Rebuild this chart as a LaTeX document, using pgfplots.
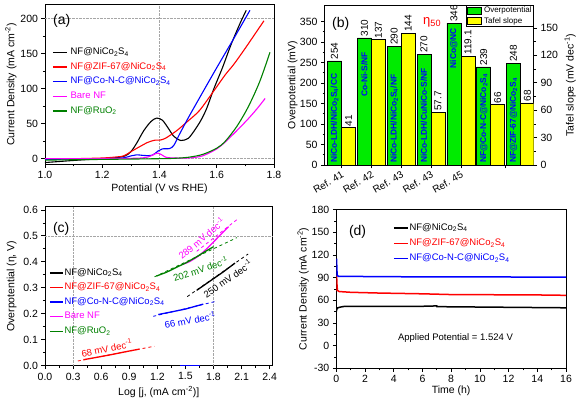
\documentclass[border=0pt]{standalone}
\usepackage{fontspec}
\setmainfont{Liberation Sans}
\usepackage{pgfplots}
\pgfplotsset{compat=1.18}
\definecolor{mygreen}{RGB}{0,128,0}
\definecolor{bargreen}{RGB}{0,235,0}
\definecolor{baryellow}{RGB}{255,255,0}
\definecolor{mymag}{RGB}{255,0,255}
\pgfplotsset{
  base/.style={scale only axis, anchor=south west, tick align=outside,
    xtick pos=bottom, ytick pos=left, major tick length=3.5pt, minor tick length=2pt,
    every tick/.style={black, line width=0.6pt}, axis line style={line width=0.8pt},
    /pgf/number format/assume math mode=true,
    tick label style={font=\fontsize{10.5}{12}\selectfont},
    label style={font=\fontsize{10.5}{12}\selectfont},
    minor tick num=1, clip=true,
    legend cell align=left},
  ylab/.style={ylabel style={at={([xshift=#1]rel axis cs:0,0.5)}, anchor=south}},
  xlab/.style={xlabel style={at={([yshift=#1]rel axis cs:0.5,0)}, anchor=north}},
  lineleg/.style={legend image code/.code={\draw[##1, line width=1.3pt] (0pt,0pt) -- (#1,0pt);}},
  sqleg/.style={legend image code/.code={\draw[##1] (0pt,-3.5pt) rectangle (14pt,3.5pt);}},
  gridx/.style={extra x ticks={#1}, extra x tick labels={}, extra x tick style={grid=major, major grid style={gray!70, densely dotted, line width=0.5pt}}},
  gridy/.style={extra y ticks={#1}, extra y tick labels={}, extra y tick style={grid=major, major grid style={gray!70, densely dotted, line width=0.5pt}}},
}
\begin{document}
\begin{tikzpicture}
\useasboundingbox (0pt,0pt) rectangle (576pt,403pt);

% ---------------- (a)
\begin{axis}[base, at={(45pt,238.7pt)}, width=229pt, height=159.6pt,
  xmin=1.0, xmax=1.8, ymin=-8, ymax=220,
  xtick={1.0,1.2,1.4,1.6,1.8}, ytick={0,50,100,150,200},
  xticklabel style={/pgf/number format/.cd, fixed, fixed zerofill, precision=1},
  gridx={1.4}, gridy={0,200},
  xlabel={Potential (V vs RHE)}, ylabel={Current Density (mA cm\textsuperscript{-2})},
  ylab=-25pt, xlab=-16.5pt,
  lineleg=14pt,
  legend style={draw=none, fill=none, at={(0.031,0.739)}, anchor=north west,
    font=\fontsize{9.5}{10}\selectfont, inner sep=0pt, row sep=3.2pt,
    nodes={inner sep=1pt, text height=7pt, text depth=2.5pt},
    /tikz/every odd column/.append style={column sep=2pt}},
  smooth, tension=0.5]
\addplot[black, line width=1.1pt] coordinates {(1.00,-5.5)(1.05,-4)(1.10,-2.5)(1.15,-1.2)(1.20,0)(1.25,1.5)(1.28,4)(1.30,10)(1.32,22)(1.345,40)(1.37,53)(1.39,58)(1.41,55)(1.43,44)(1.45,32)(1.475,26)(1.50,29)(1.52,39)(1.545,55)(1.565,72)(1.59,100)(1.62,130)(1.65,163)(1.68,192)(1.703,212)};
\addlegendentry{NF@NiCo\textsubscript{2}S\textsubscript{4}}
\addplot[red, line width=1.1pt] coordinates {(1.00,-0.5)(1.10,0)(1.20,1)(1.25,2.5)(1.275,4)(1.30,10)(1.33,17)(1.36,23.5)(1.385,26.5)(1.40,26.5)(1.42,29)(1.46,40)(1.50,54)(1.54,69)(1.59,97)(1.63,120)(1.66,135)(1.70,158)(1.73,176)(1.765,197)};
\addlegendentry{\textcolor{red}{NF@ZIF-67@NiCo\textsubscript{2}S\textsubscript{4}}}
\addplot[blue, line width=1.1pt] coordinates {(1.00,-1)(1.10,-0.5)(1.20,0)(1.27,1)(1.30,4)(1.32,5.5)(1.35,4.5)(1.375,5)(1.395,11)(1.41,14)(1.435,14.5)(1.45,19)(1.47,35)(1.50,58)(1.54,87)(1.60,130)(1.66,172)(1.716,212)};
\addlegendentry{\textcolor{blue}{NF@Co-N-C@NiCo\textsubscript{2}S\textsubscript{4}}}
\addplot[mymag, line width=1.1pt] coordinates {(1.00,0)(1.30,0.5)(1.36,2.5)(1.385,7)(1.395,8)(1.41,5)(1.43,1.5)(1.50,1)(1.55,4)(1.60,14)(1.63,24)(1.67,40)(1.71,57)(1.74,71)(1.769,86)};
\addlegendentry{\textcolor{mymag}{Bare NF}}
\addplot[mygreen, line width=1.1pt] coordinates {(1.00,-2)(1.20,-1)(1.40,0)(1.45,0.5)(1.50,2)(1.55,6)(1.60,15)(1.63,25)(1.67,46)(1.71,74)(1.75,110)(1.786,152)};
\addlegendentry{\textcolor{mygreen}{NF@RuO\textsubscript{2}}}
\node[anchor=west, font=\fontsize{14}{15}\selectfont] at (rel axis cs:0.02,0.9) {(a)};
\end{axis}

% ---------------- (b) left
\begin{axis}[base, at={(324.5pt,238pt)}, width=209pt, height=160pt,
  xmin=0.428, xmax=7.437, ymin=0, ymax=390,
  ytick={0,50,...,350}, xtick={1,2,3,4,5,6.5}, minor x tick num=0,
  xticklabels={Ref. 41, Ref. 42, Ref. 43, Ref. 43, Ref. 45,},
  xticklabel style={rotate=30, anchor=north east, font=\fontsize{10}{12}\selectfont, inner sep=1.5pt},
  ylabel={Overpotential (mV)}, ylab=-23.5pt]
\addplot[ybar, bar width=0.47, bar shift=-0.235, fill=bargreen, draw=black, line width=0.5pt]
  coordinates {(1,254)(2,310)(3,290)(4,270)(5,346)(6,239)(7,248)};
\begin{scope}[every node/.style={rotate=90, anchor=west, font=\fontsize{10}{11}\selectfont, inner sep=1.2pt}]
\node at (axis cs:0.765,254) {254};
\node at (axis cs:1.765,310) {310};
\node at (axis cs:2.765,290) {290};
\node at (axis cs:3.765,270) {270};
\node at (axis cs:4.765,346) {346};
\node at (axis cs:5.765,239) {239};
\node at (axis cs:6.765,248) {248};
\end{scope}
\begin{scope}[every node/.style={rotate=90, text=blue, font=\bfseries\fontsize{8.4}{9}\selectfont, inner sep=1pt}]
\node[anchor=west] at (axis cs:0.765,2) {NiCo-LDH/NiCo\textsubscript{2}S\textsubscript{4}/CC};
\node[anchor=east] at (axis cs:1.765,278) {Co-Ni-S/NF};
\node[anchor=west] at (axis cs:2.765,2) {NiCo-LDH/NiCo\textsubscript{2}S\textsubscript{4}/NF};
\node[anchor=west] at (axis cs:3.765,2) {NiCo-LDH/CuNiCo-S/NF};
\node[anchor=east] at (axis cs:4.765,336) {NiCo@NC};
\node[anchor=west] at (axis cs:5.765,2) {NF@Co-N-C@NiCo\textsubscript{2}S\textsubscript{4}};
\node[anchor=west] at (axis cs:6.765,2) {NF@ZIF-67@NiCo\textsubscript{2}S\textsubscript{4}};
\end{scope}
\node[anchor=north, font=\fontsize{10}{12}\selectfont] at ([yshift=-3pt]axis cs:6.5,0) {Present work};
\node[anchor=west, font=\fontsize{14}{15}\selectfont] at (rel axis cs:0.02,0.88) {(b)};
\node[text=red, font=\fontsize{13}{14}\selectfont] at (rel axis cs:0.515,0.89) {η\textsubscript{50}};
\end{axis}
% ---------------- (b) right
\begin{axis}[base, at={(324.5pt,238pt)}, width=209pt, height=160pt,
  xmin=0.428, xmax=7.437, ymin=0, ymax=175,
  axis x line=none, axis y line*=right, ytick pos=right,
  ytick={0,30,...,150},
  ylabel={Tafel slope (mV dec\textsuperscript{-1})},
  ylabel style={at={([xshift=27.5pt]rel axis cs:1,0.5)}, anchor=north},
  legend style={draw=black, line width=0.5pt, fill=white, at={(1,1)}, anchor=north east,
    font=\fontsize{8}{9}\selectfont, inner sep=1pt, row sep=1.2pt,
    nodes={inner sep=0.6pt, text height=6pt, text depth=1.8pt},
    /tikz/every odd column/.append style={column sep=1.5pt}}]
\addlegendimage{fill=bargreen, draw=black, sqleg}
\addlegendentry{Overpotential}
\addplot[ybar, bar width=0.47, bar shift=0.235, fill=baryellow, draw=black, line width=0.5pt, sqleg]
  coordinates {(1,41)(2,137)(3,144)(4,57.7)(5,119.1)(6,66)(7,68)};
\addlegendentry{Tafel slope}
\begin{scope}[every node/.style={rotate=90, anchor=west, font=\fontsize{10}{11}\selectfont, inner sep=1.2pt}]
\node at (axis cs:1.235,41) {41};
\node at (axis cs:2.235,137) {137};
\node at (axis cs:3.235,144) {144};
\node at (axis cs:4.235,57.7) {57.7};
\node at (axis cs:5.235,119.1) {119.1};
\node at (axis cs:6.235,66) {66};
\node at (axis cs:7.235,68) {68};
\end{scope}
\end{axis}

% ---------------- (c)
\begin{axis}[base, at={(45pt,37.3pt)}, width=227.5pt, height=159pt,
  xmin=0, xmax=2.43, ymin=0, ymax=0.612,
  xtick={0,0.3,0.6,0.9,1.2,1.5,1.8,2.1,2.4}, ytick={0,0.1,0.2,0.3,0.4,0.5,0.6},
  xticklabel style={/pgf/number format/.cd, fixed, fixed zerofill, precision=1},
  yticklabel style={/pgf/number format/.cd, fixed, fixed zerofill, precision=1},
  gridx={0.3,1.8}, gridy={0.5},
  xlabel={Log [j, (mA cm\textsuperscript{-2})]}, ylabel={Overpotential (η, V)},
  ylab=-25pt, xlab=-17pt,
  lineleg=13pt,
  legend style={draw=none, fill=none, at={(0.0176,0.621)}, anchor=north west,
    font=\fontsize{9.5}{10}\selectfont, inner sep=0pt, row sep=3.1pt,
    nodes={inner sep=1pt, text height=7pt, text depth=2.5pt}}]
\addplot[black, line width=1.3pt] coordinates {(1.62,0.29)(1.7,0.31)(1.8,0.335)(1.9,0.36)(2.03,0.395)};
\addlegendentry{NF@NiCo\textsubscript{2}S\textsubscript{4}}
\addplot[red, line width=1.3pt] coordinates {(0.41,0.023)(0.55,0.032)(0.7,0.042)(0.85,0.053)(1.01,0.064)};
\addlegendentry{\textcolor{red}{NF@ZIF-67@NiCo\textsubscript{2}S\textsubscript{4}}}
\addplot[blue, line width=1.3pt] coordinates {(1.21,0.197)(1.35,0.207)(1.5,0.218)(1.6,0.228)(1.69,0.237)};
\addlegendentry{\textcolor{blue}{NF@Co-N-C@NiCo\textsubscript{2}S\textsubscript{4}}}
\addplot[mymag, line width=1.3pt, smooth] coordinates {(1.47,0.39)(1.55,0.402)(1.65,0.425)(1.75,0.458)(1.85,0.495)(1.96,0.535)};
\addlegendentry{\textcolor{mymag}{Bare NF}}
\addplot[mygreen, line width=1.3pt] coordinates {(1.19,0.345)(1.3,0.36)(1.4,0.378)(1.5,0.395)(1.6,0.415)(1.7,0.437)(1.8,0.458)};
\addlegendentry{\textcolor{mygreen}{NF@RuO\textsubscript{2}}}
\addplot[black, dashed, line width=0.8pt, forget plot] coordinates {(1.52,0.266)(2.17,0.43)};
\addplot[red, dashed, line width=0.8pt, forget plot] coordinates {(0.35,0.018)(1.17,0.075)};
\addplot[blue, dashed, line width=0.8pt, forget plot] coordinates {(1.156,0.19)(1.83,0.248)};
\addplot[mymag, dashed, line width=0.8pt, forget plot] coordinates {(1.62,0.44)(2.06,0.565)};
\addplot[mygreen, dashed, line width=0.8pt, forget plot] coordinates {(1.17,0.342)(2.05,0.493)};
\addplot[blue, line width=1.3pt, forget plot] coordinates {(1.44,0.001)(1.66,0.001)};
\node[anchor=west, font=\fontsize{14}{15}\selectfont] at (rel axis cs:0.02,0.86) {(c)};
\begin{scope}[every node/.style={font=\fontsize{9.5}{10}\selectfont, inner sep=0pt}]
\node[text=red, rotate=12] at (axis cs:0.66,0.068) {68 mV dec\textsuperscript{-1}};
\node[text=blue, rotate=11] at (axis cs:1.55,0.176) {66 mV dec\textsuperscript{-1}};
\node[text=black, rotate=35] at (axis cs:1.95,0.335) {250 mV dec\textsuperscript{-1}};
\node[text=mygreen, rotate=18] at (axis cs:1.66,0.372) {202 mV dec\textsuperscript{-1}};
\node[text=mymag, rotate=40] at (axis cs:1.67,0.49) {289 mV dec\textsuperscript{-1}};
\end{scope}
\end{axis}

% ---------------- (d)
\begin{axis}[base, at={(336.3pt,34.7pt)}, width=229.7pt, height=158.8pt,
  xmin=0, xmax=16, ymin=-30, ymax=180,
  xtick={0,2,...,16}, ytick={-30,0,30,...,180},
  xlabel={Time (h)}, ylabel={Current Density (mA cm\textsuperscript{-2})},
  ylab=-24pt, xlab=-14.5pt,
  lineleg=14pt,
  legend style={draw=none, fill=none, at={(0.247,0.921)}, anchor=north west,
    font=\fontsize{9.5}{10}\selectfont, inner sep=0pt, row sep=3.8pt,
    nodes={inner sep=1pt, text height=7pt, text depth=2.5pt}}]
\addplot[black, line width=1.5pt] coordinates {(0,45)(0.03,48)(0.1,50)(0.3,51)(0.6,52)(3,52)(6,52)(7,52.5)(7.01,51.5)(10,51)(13,50.5)(16,50)};
\addlegendentry{NF@NiCo\textsubscript{2}S\textsubscript{4}}
\addplot[red, line width=1.5pt] coordinates {(0,72)(0.02,93)(0.05,80)(0.08,73)(0.2,71.5)(1,70.5)(3,69.5)(6,68.5)(8,67.5)(10,67.5)(12,67)(14,67)(16,66.5)};
\addlegendentry{\textcolor{red}{NF@ZIF-67@NiCo\textsubscript{2}S\textsubscript{4}}}
\addplot[blue, line width=1.5pt] coordinates {(0,92)(0.02,115)(0.04,100)(0.07,93)(0.15,91.5)(1,91.5)(5,91)(10,91)(14,90.5)(16,90.5)};
\addlegendentry{\textcolor{blue}{NF@Co-N-C@NiCo\textsubscript{2}S\textsubscript{4}}}
\node[anchor=west, font=\fontsize{14}{15}\selectfont] at (rel axis cs:0.04,0.86) {(d)};
\node[font=\fontsize{9.5}{10}\selectfont] at (axis cs:8.3,10) {Applied Potential = 1.524 V};
\end{axis}
\end{tikzpicture}
\end{document}
